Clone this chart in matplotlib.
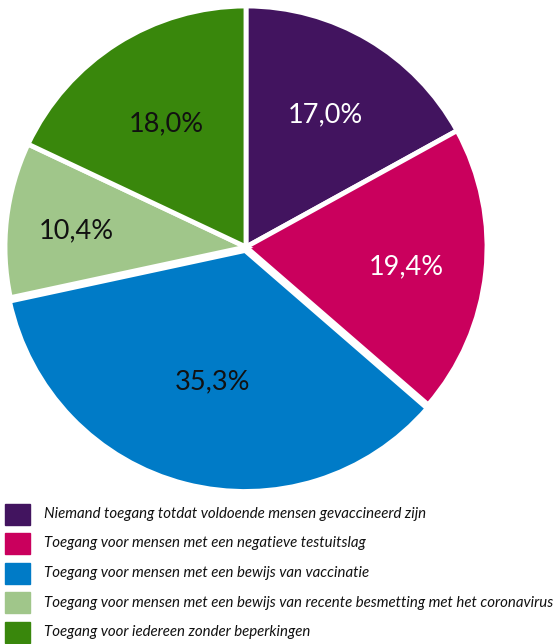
import matplotlib
matplotlib.use("Agg")
import matplotlib.pyplot as plt
import numpy as np

labels = [
    "Niemand toegang totdat voldoende mensen gevaccineerd zijn",
    "Toegang voor mensen met een negatieve testuitslag",
    "Toegang voor mensen met een bewijs van vaccinatie",
    "Toegang voor mensen met een bewijs van recente besmetting met het coronavirus",
    "Toegang voor iedereen zonder beperkingen",
]
values = [17.0, 19.4, 35.3, 10.4, 18.0]
pct_text = ["17,0%", "19,4%", "35,3%", "10,4%", "18,0%"]
colors = ["#42145f", "#ca005d", "#007bc7", "#a0c68a", "#39870c"]
text_colors = ["white", "white", "#111111", "#111111", "#111111"]
label_r = [0.65, 0.67, 0.55, 0.71, 0.62]

W, H = 555, 644
fig = plt.figure(figsize=(W / 100, H / 100), dpi=100)

# pie axes: center ~(246, 247), radius ~241 px
cx, cy, r = 246, 247, 241
ax = fig.add_axes([(cx - r) / W, 1 - (cy + r) / H, 2 * r / W, 2 * r / H])
wedges, _ = ax.pie(values, colors=colors, startangle=90, counterclock=False,
                   explode=[0, 0, 0.015, 0, 0],
                   wedgeprops=dict(edgecolor="white", linewidth=3.5))
ax.set_xlim(-1, 1)
ax.set_ylim(-1, 1)
ax.set_aspect("equal")

for w, t, c, d in zip(wedges, pct_text, text_colors, label_r):
    ang = np.deg2rad((w.theta1 + w.theta2) / 2)
    x = w.center[0] + d * np.cos(ang)
    y = w.center[1] + d * np.sin(ang) - 0.012
    ax.text(x, y, t, ha="center", va="center", color=c, fontsize=19.5,
            family="Lato")

# legend
for i, (lab, col) in enumerate(zip(labels, colors)):
    yc = 514 + i * 29.5
    fig.patches.append(plt.Rectangle((5 / W, 1 - (yc + 10.5) / H), 25 / W, 21 / H,
                                     transform=fig.transFigure, color=col))
    fig.text(44 / W, 1 - yc / H, lab, ha="left", va="center", fontsize=10.8,
             style="italic", family="Lato", color="#111111")

fig.savefig("out.png", dpi=100)
